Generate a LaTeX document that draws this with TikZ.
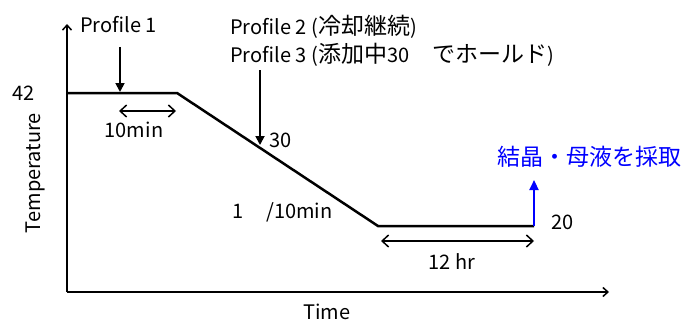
\documentclass[tikz,border=0pt]{standalone}
\usepackage{fontspec}
\setmainfont{Noto Sans CJK JP}
\newfontfamily\cjkbig{Noto Sans CJK JP}[Scale=1.15]
\usetikzlibrary{arrows.meta}
\begin{document}
\begin{tikzpicture}[x=1pt,y=-1pt,
  lbl/.style={inner sep=0pt,font=\fontsize{20}{22}\selectfont},
  axis/.style={line width=1.5pt,-{Straight Barb[length=5pt,width=9pt]}},
  prof/.style={line width=2.5pt,line join=miter},
  pointer/.style={line width=1.8pt,-{Triangle[length=9pt,width=9pt]}},
  span/.style={line width=1.5pt,{Straight Barb[length=6.5pt,width=12pt]}-{Straight Barb[length=6.5pt,width=12pt]}},
  sample/.style={line width=2.2pt,draw=blue,-{Triangle[length=10pt,width=9pt]}}]
\useasboundingbox (0,0) rectangle (684,321);
% axes
\coordinate (o) at (67,292);
\coordinate (yt) at (67,24);
\coordinate (xt) at (609,292);
\draw[axis] (o) -- (yt);
\draw[axis] (o) -- (xt);
% profile
\coordinate (p0) at (67,93);
\coordinate (p1) at (177,93);
\coordinate (p2) at (378,226);
\coordinate (p3) at (534,226);
\draw[prof] (p0) -- (p1) -- (p2) -- (p3);
% labels
\node[lbl,anchor=west] (pr1) at (80,25) {Profile 1};
\node[lbl,anchor=west] (pr2) at (230,27) {Profile 2 ({\cjkbig 冷却継続})};
\node[lbl,anchor=west] (pr3) at (230,55) {Profile 3 ({\cjkbig 添加中}30{\cjkbig 　でホールド})};
\node[lbl,anchor=west] (t42) at (12,93) {42};
\node[lbl] (t10) at (134,130) {10min};
\node[lbl,anchor=west] (t30) at (269,140) {30};
\node[lbl,anchor=west] (rate) at (232,212) {1{\cjkbig 　}/10min};
\node[lbl,anchor=west,text=blue] (samp) at (497,157) {\cjkbig 結晶・母液を採取};
\node[lbl,anchor=west] (t20) at (551,222) {20};
\node[lbl] (t12) at (452,262) {12 hr};
\node[lbl,rotate=90] (temp) at (35,173) {Temperature};
\node[lbl] (time) at (327,312) {Time};
% pointers
\coordinate (a1s) at (120,47);
\coordinate (a1e) at (120,92);
\draw[pointer] (a1s) -- (a1e);
\coordinate (a2s) at (260,70);
\coordinate (a2e) at (260,145);
\draw[pointer] (a2s) -- (a2e);
% spans
\coordinate (s1a) at (119,111);
\coordinate (s1b) at (176,111);
\draw[span] (s1a) -- (s1b);
\coordinate (s2a) at (381,241);
\coordinate (s2b) at (534,241);
\draw[span] (s2a) -- (s2b);
% sampling arrow
\coordinate (bt) at (534,180);
\draw[sample] (p3) -- (bt);
\end{tikzpicture}
\end{document}
